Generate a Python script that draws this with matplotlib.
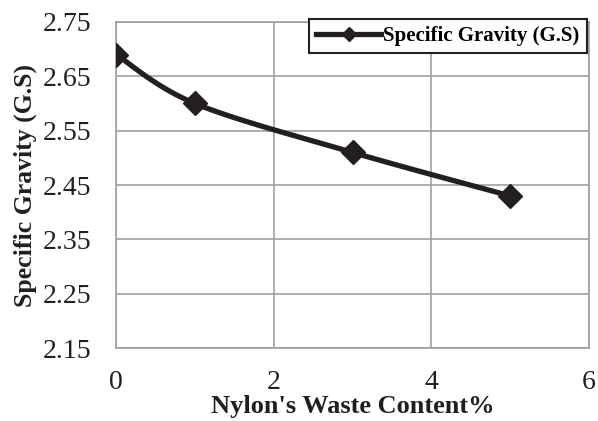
import matplotlib.pyplot as plt
import numpy as np

plt.rcParams['font.family'] = ['Liberation Serif', 'DejaVu Serif']

# data
waste = [0, 1, 3, 5]
gravity = [2.69, 2.60, 2.51, 2.43]
x_ticks = [0, 2, 4, 6]
y_ticks = [2.15, 2.25, 2.35, 2.45, 2.55, 2.65, 2.75]


def smooth_curve(x, y, n=40):
    # Excel-style smoothed line: cubic bezier segments with Catmull-Rom tangents
    x = np.asarray(x, float)
    y = np.asarray(y, float)
    px = np.concatenate([[x[0]], x, [x[-1]]])
    py = np.concatenate([[y[0]], y, [y[-1]]])
    xs, ys = [], []
    t = np.linspace(0, 1, n)
    for i in range(1, len(px) - 2):
        p0 = np.array([px[i], py[i]])
        p3 = np.array([px[i + 1], py[i + 1]])
        p1 = p0 + (np.array([px[i + 1], py[i + 1]]) - np.array([px[i - 1], py[i - 1]])) / 6
        p2 = p3 - (np.array([px[i + 2], py[i + 2]]) - np.array([px[i], py[i]])) / 6
        b = ((1 - t) ** 3)[:, None] * p0 + (3 * (1 - t) ** 2 * t)[:, None] * p1 \
            + (3 * (1 - t) * t ** 2)[:, None] * p2 + (t ** 3)[:, None] * p3
        xs.extend(b[:, 0])
        ys.extend(b[:, 1])
    return xs, ys


fig = plt.figure(figsize=(5.98, 4.21), dpi=100)
ax = fig.add_axes([0.194, 0.173, 0.791, 0.775])

sx, sy = smooth_curve(waste, gravity)
ax.plot(sx, sy, color='#231f20', lw=3.8, solid_capstyle='round', zorder=3)
ax.plot(waste, gravity, linestyle='none', marker='D', color='#231f20', markersize=12, zorder=4)
# proxy for the legend
ax.plot([], [], color='#231f20', lw=3.8, marker='D', markersize=7, label='Specific Gravity (G.S)')

ax.set_xlim(0, 6)
ax.set_ylim(2.15, 2.75)
ax.set_xticks(x_ticks)
ax.set_yticks(y_ticks)
ax.set_yticklabels([f'{v:.2f}' for v in y_ticks])
ax.grid(color='#a0a0a0', lw=1.2)
ax.set_axisbelow(True)
for s in ax.spines.values():
    s.set_color('#a0a0a0')
    s.set_linewidth(1.2)
ax.tick_params(length=0, labelsize=20, colors='#231f20')
ax.tick_params(axis='x', pad=16)
ax.tick_params(axis='y', pad=18)

ax.set_xlabel("Nylon's Waste Content%", fontsize=19, fontweight='bold', labelpad=0, color='#231f20')
ax.set_ylabel('Specific Gravity (G.S)', fontsize=18.5, fontweight='bold', labelpad=4, color='#231f20')

leg = ax.legend(loc='upper right', bbox_to_anchor=(0.995, 1.01), fancybox=False, framealpha=1,
                edgecolor='#231f20', prop={'weight': 'bold', 'size': 15}, handlelength=3.1,
                handletextpad=0.1, borderpad=0.35, borderaxespad=0)
leg.get_frame().set_linewidth(1.5)

plt.savefig('out.png', dpi=100)
